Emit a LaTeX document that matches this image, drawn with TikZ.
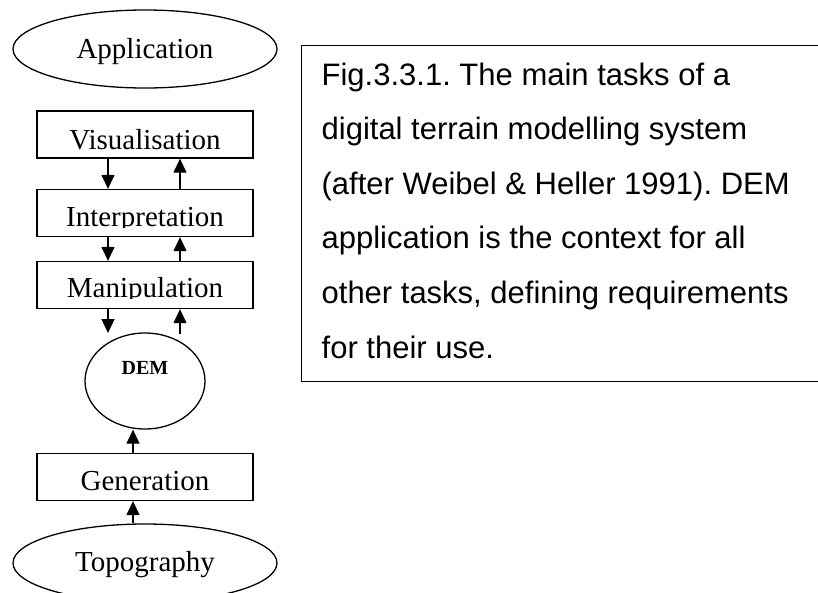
\documentclass[tikz,border=0pt]{standalone}
\usepackage{fontspec}
\setmainfont{Liberation Serif}
\newfontfamily\capfont{Liberation Sans}
\usetikzlibrary{arrows.meta,shapes.geometric}
\frenchspacing
\begin{document}
\begin{tikzpicture}[x=1pt,y=-1pt, line width=1.3pt,
 taskbox/.style={draw, rectangle, minimum width=216pt, minimum height=47pt, inner sep=0pt},
 oval/.style={draw, ellipse, inner sep=0pt},
 lbl/.style={anchor=base, font=\fontsize{29}{29}\selectfont, inner sep=0pt},
 arr/.style={-{Triangle[width=13pt,length=14pt]}},
 capline/.style={anchor=base west, font=\capfont\frenchspacing\fontsize{31}{31}\selectfont, inner sep=0pt}]
\useasboundingbox (0,0) rectangle (818,592);
% ovals
\node[oval, minimum width=264pt, minimum height=78pt] (app) at (145,49) {};
\node[lbl] (apptxt) at (145,58) {Application};
\node[oval, minimum width=120pt, minimum height=96pt] (dem) at (145,381) {};
\node[anchor=base, inner sep=0pt, font=\bfseries\fontsize{20}{20}\selectfont] (demtxt) at (145,374) {DEM};
\node[oval, minimum width=264pt, minimum height=78pt] (topo) at (145,563) {};
\node[lbl] (topotxt) at (145,571) {Topography};
% boxes
\node[taskbox] (vis) at (145,134.5) {};
\node[taskbox] (int) at (145,213) {};
\node[taskbox] (man) at (145,285) {};
\node[taskbox] (gen) at (145,477) {};
\begin{scope}
\clip (vis.north west) rectangle ([yshift=8pt]vis.south east);
\node[lbl] (vistxt) at (145,149) {Visualisation};
\end{scope}
\begin{scope}
\clip (int.north west) rectangle ([yshift=9.5pt]int.south east);
\node[lbl] (inttxt) at (145,226) {Interpretation};
\end{scope}
\begin{scope}
\clip (man.north west) rectangle ([yshift=10.5pt]man.south east);
\node[lbl] (mantxt) at (145,297) {Manipulation};
\end{scope}
\node[lbl] (gentxt) at (145,490) {Generation};
% connectors
\coordinate (dl) at (108,0);
\coordinate (ur) at (180,0);
\coordinate (mid) at (133,0);
\coordinate (dd) at (108,333);
\coordinate (du) at (180,334);
\draw[arr] (vis.south -| dl) -- (int.north -| dl);
\draw[arr] (int.north -| ur) -- (vis.south -| ur);
\draw[arr] (int.south -| dl) -- (man.north -| dl);
\draw[arr] (man.north -| ur) -- (int.south -| ur);
\draw[arr] (man.south -| dl) -- (dd);
\draw[arr] (du) -- (man.south -| ur);
\draw[arr] (gen.north -| mid) -- (dem.south -| mid);
\draw[arr] (topo.north -| mid) -- (gen.south -| mid);
% caption
\node[draw, rectangle, minimum width=540pt, minimum height=336pt, anchor=north west, inner sep=0pt] (cap) at (301,45) {};
\node[capline] (c1) at (321,85) {Fig.3.3.1. The main tasks of a};
\node[capline] (c2) at (321,139.6) {digital terrain modelling system};
\node[capline] (c3) at (321,194.2) {(after Weibel \& Heller 1991). DEM};
\node[capline] (c4) at (321,248.8) {application is the context for all};
\node[capline] (c5) at (321,303.4) {other tasks, defining requirements};
\node[capline] (c6) at (321,358) {for their use.};
\end{tikzpicture}
\end{document}
